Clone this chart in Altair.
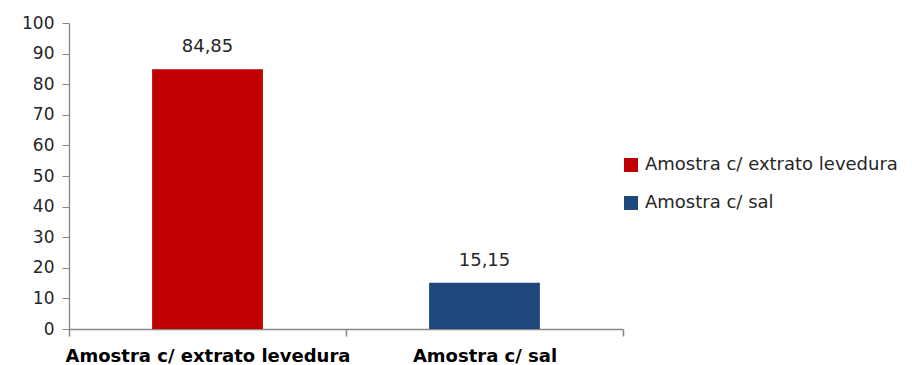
import altair as alt
import pandas as pd

categories = ["Amostra c/ extrato levedura", "Amostra c/ sal"]
values = [84.85, 15.15]
labels = ["84,85", "15,15"]
colors = ["#C00000", "#1F497D"]

df = pd.DataFrame({"cat": categories, "val": values, "lab": labels})

AX = "#868686"
FONT = "DejaVu Sans"

x = alt.X("cat:N", sort=categories, title=None,
          scale=alt.Scale(paddingInner=0, paddingOuter=0),
          axis=alt.Axis(labelAngle=0, labelFont=FONT, labelFontSize=18,
                        labelFontWeight="bold", labelColor="#000000",
                        labelPadding=11, tickBand="extent", tickSize=7,
                        tickWidth=1.5, labelLimit=400,
                        domainColor=AX, tickColor=AX, domainWidth=1.3))

y = alt.Y("val:Q", title=None,
          scale=alt.Scale(domain=[0, 100]),
          axis=alt.Axis(values=list(range(0, 101, 10)), grid=False,
                        labelOverlap=False,
                        labelFont=FONT, labelFontSize=17, labelColor="#262626",
                        labelPadding=8, tickSize=7, domainColor=AX,
                        tickColor=AX, domainWidth=1.3))

base = alt.Chart(df).encode(x=x, y=y)

bars = base.mark_bar(width=alt.RelativeBandSize(0.4)).encode(
    color=alt.Color("cat:N", sort=categories,
                    scale=alt.Scale(domain=categories, range=colors),
                    legend=alt.Legend(title=None, orient="none", legendX=553,
                                      legendY=133, symbolType="square",
                                      symbolSize=196, symbolStrokeWidth=0,
                                      labelFont=FONT, labelFontSize=18,
                                      labelColor="#262626", rowPadding=20,
                                      labelLimit=400, labelOffset=5)),
)

text = base.mark_text(dy=-22, font=FONT, fontSize=18,
                      color="#262626").encode(text="lab:N")

chart = (bars + text).properties(
    width=554, height=306,
    autosize=alt.AutoSizeParams(type="none"),
    padding={"left": 69, "top": 23, "right": 289, "bottom": 36},
).configure(background="white").configure_view(stroke=None)

chart.save("out.html", embed_options={"renderer": "svg", "actions": False})
